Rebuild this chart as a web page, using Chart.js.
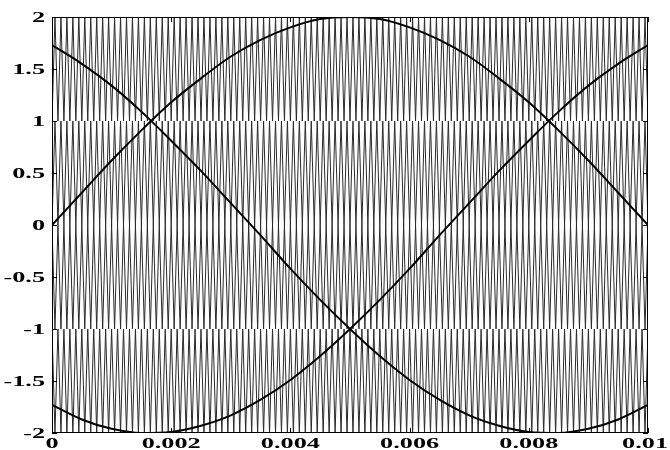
<!DOCTYPE html>
<html>
<head>
<meta charset="utf-8">
<script src="https://cdn.jsdelivr.net/npm/chart.js@4/dist/chart.umd.min.js"></script>
<style>
  html, body { margin: 0; padding: 0; background: #fff; }
  #wrap { width: 670px; height: 450px; }
</style>
</head>
<body>
<div id="wrap"><canvas id="c" width="670" height="450"></canvas></div>
<script>
// ---- data ----
const timeValues = [0, 0.0005, 0.001, 0.0015, 0.002, 0.0025, 0.003, 0.0035, 0.004, 0.0045, 0.005,
                    0.0055, 0.006, 0.0065, 0.007, 0.0075, 0.008, 0.0085, 0.009, 0.0095, 0.01];
const phaseA = [0, 0.31, 0.62, 0.91, 1.18, 1.41, 1.62, 1.78, 1.90, 1.98, 2.00,
                1.98, 1.90, 1.78, 1.62, 1.41, 1.18, 0.91, 0.62, 0.31, 0];
const phaseB = [1.73, 1.55, 1.34, 1.09, 0.81, 0.52, 0.21, -0.10, -0.42, -0.72, -1.00,
                -1.26, -1.49, -1.68, -1.83, -1.93, -1.99, -2.00, -1.96, -1.87, -1.73];
const phaseC = [-1.73, -1.87, -1.96, -2.00, -1.99, -1.93, -1.83, -1.68, -1.49, -1.26, -1.00,
                -0.72, -0.42, -0.10, 0.21, 0.52, 0.81, 1.09, 1.34, 1.55, 1.73];

// level-shifted triangular carriers (phase opposition disposition)
const carrierCycles = 100;              // periods across the 0..0.01 window
const carrierBands = [[1, 2], [0, 1], [-1, 0], [-2, -1]];
const carrierStartsHigh = [false, false, true, true];

const xTickLabels = ['0', '0.002', '0.004', '0.006', '0.008', '0.01'];
const xTickValues = [0, 0.002, 0.004, 0.006, 0.008, 0.01];
const yTickLabels = ['2', '1.5', '1', '0.5', '0', '-0.5', '-1', '-1.5', '-2'];
const yTickValues = [2, 1.5, 1, 0.5, 0, -0.5, -1, -1.5, -2];

// ---- build datasets ----
const xMin = 0, xMax = 0.01;
function carrierPoints(band, startHigh) {
  const pts = [];
  const n = carrierCycles * 2;
  for (let k = 0; k <= n; k++) {
    const high = (k % 2 === 0) ? startHigh : !startHigh;
    pts.push({ x: xMin + (xMax - xMin) * k / n, y: high ? band[1] : band[0] });
  }
  return pts;
}
function sinePoints(vals) {
  return vals.map((v, i) => ({ x: timeValues[i], y: v }));
}

const datasets = [];
[phaseA, phaseB, phaseC].forEach(vals => {
  datasets.push({
    data: sinePoints(vals), borderColor: '#000', borderWidth: 2,
    pointRadius: 0, cubicInterpolationMode: 'monotone', fill: false, order: 0
  });
});
carrierBands.forEach((b, i) => {
  datasets.push({
    data: carrierPoints(b, carrierStartsHigh[i]), borderColor: '#2a2a2a', borderWidth: 1,
    pointRadius: 0, tension: 0, fill: false, order: 1
  });
});

const FONT = 'bold 15px "Liberation Serif", "DejaVu Serif", serif';
const STRETCH = 1.75;

const framePlugin = {
  id: 'frame',
  afterDraw(chart) {
    const ctx = chart.ctx, a = chart.chartArea;
    const xs = chart.scales.x, ys = chart.scales.y;
    ctx.save();
    ctx.strokeStyle = '#000';
    ctx.lineWidth = 1;
    ctx.strokeRect(Math.round(a.left) + 0.5, Math.round(a.top) + 0.5,
                   Math.round(a.right - a.left) - 1, Math.round(a.bottom - a.top) - 1);
    const tl = 5;
    ctx.beginPath();
    xTickValues.forEach(v => {
      const px = Math.round(xs.getPixelForValue(v)) + 0.5;
      ctx.moveTo(px, a.bottom); ctx.lineTo(px, a.bottom - tl);
      ctx.moveTo(px, a.top); ctx.lineTo(px, a.top + tl);
    });
    yTickValues.forEach(v => {
      const py = Math.round(ys.getPixelForValue(v)) + 0.5;
      ctx.moveTo(a.left, py); ctx.lineTo(a.left + tl, py);
      ctx.moveTo(a.right, py); ctx.lineTo(a.right - tl, py);
    });
    ctx.stroke();

    ctx.fillStyle = '#000';
    ctx.font = FONT;
    ctx.textBaseline = 'alphabetic';
    ctx.textAlign = 'center';
    const W = chart.width;
    xTickLabels.forEach((t, i) => {
      let px = xs.getPixelForValue(xTickValues[i]);
      const half = ctx.measureText(t).width * STRETCH / 2;
      if (px + half > W - 2) px = W - 2 - half;
      ctx.save(); ctx.translate(px, a.bottom + 14.5); ctx.scale(STRETCH, 1);
      ctx.fillText(t, 0, 0); ctx.restore();
    });
    ctx.textAlign = 'right';
    yTickLabels.forEach((t, i) => {
      const py = ys.getPixelForValue(yTickValues[i]);
      ctx.save(); ctx.translate(a.left - 7, py + 5); ctx.scale(STRETCH, 1);
      ctx.fillText(t, 0, 0); ctx.restore();
    });
    ctx.restore();
  }
};

new Chart(document.getElementById('c'), {
  type: 'line',
  data: { datasets },
  options: {
    responsive: false,
    animation: false,
    parsing: false,
    normalized: true,
    layout: { padding: { left: 52, right: 22, top: 17, bottom: 17 } },
    plugins: { legend: { display: false }, tooltip: { enabled: false } },
    scales: {
      x: { type: 'linear', min: xMin, max: xMax, display: false },
      y: { type: 'linear', min: -2, max: 2, display: false }
    }
  },
  plugins: [framePlugin]
});
</script>
</body>
</html>
